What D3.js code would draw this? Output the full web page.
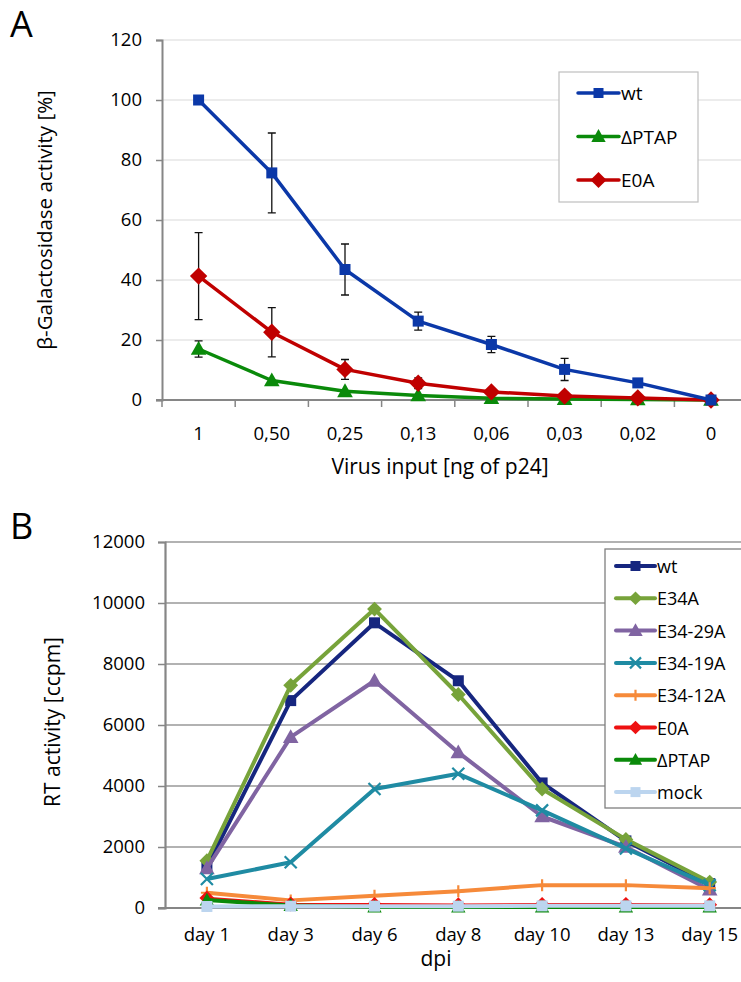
<!DOCTYPE html>
<html><head><meta charset="utf-8">
<script src="https://cdn.jsdelivr.net/npm/d3@7/dist/d3.min.js"></script>
<style>body{margin:0;background:#fff}svg{display:block}text{font-family:"Open Sans",sans-serif;fill:#000}</style>
</head><body><svg id="c" width="741" height="982"></svg>
<script>
// ---------- Panel A data ----------
const catsA = ["1","0,50","0,25","0,13","0,06","0,03","0,02","0"];
const wtA    = [100, 75.7, 43.5, 26.3, 18.5, 10.2, 5.7, 0];
const wtErr  = [0, 13.3, 8.5, 3, 2.7, 3.7, 0.6, 0];
const ptapA  = [17.0, 6.5, 2.9, 1.5, 0.6, 0.3, 0.2, 0];
const ptapErr= [2.7, 0, 0, 0, 0, 0, 0, 0];
const e0aA   = [41.3, 22.6, 10.2, 5.6, 2.7, 1.3, 0.7, 0];
const e0aErr = [14.5, 8.2, 3.3, 1.8, 0.8, 0, 0, 0];
const ticksA = [0,20,40,60,80,100,120];

// ---------- Panel B data ----------
const catsB = ["day 1","day 3","day 6","day 8","day 10","day 13","day 15"];
const namesB = ["wt","E34A","E34-29A","E34-19A","E34-12A","E0A","ΔPTAP","mock"];
const wtB     = [1350, 6800, 9350, 7450, 4100, 2200, 800];
const e34aB   = [1550, 7300, 9800, 7000, 3900, 2250, 850];
const e3429B  = [1300, 5600, 7450, 5100, 3000, 2000, 600];
const e3419B  = [950, 1500, 3900, 4400, 3200, 1950, 750];
const e3412B  = [500, 250, 400, 550, 750, 750, 650];
const e0aB    = [330, 130, 120, 110, 120, 120, 110];
const ptapB   = [260, 80, 30, 30, 30, 30, 30];
const mockB   = [50, 60, 60, 60, 70, 70, 70];
const ticksB = [0,2000,4000,6000,8000,10000,12000];

const svg = d3.select("#c");

function marker(g, shape, x, y, color, s) {
  if (shape === "square") g.append("rect").attr("x", x-s/2).attr("y", y-s/2).attr("width", s).attr("height", s).attr("fill", color);
  else if (shape === "diamond") g.append("path").attr("d", `M${x},${y-s*0.62}L${x+s*0.62},${y}L${x},${y+s*0.62}L${x-s*0.62},${y}Z`).attr("fill", color);
  else if (shape === "triangle") g.append("path").attr("d", `M${x},${y-s*0.62}L${x+s*0.6},${y+s*0.45}L${x-s*0.6},${y+s*0.45}Z`).attr("fill", color);
  else if (shape === "x") g.append("path").attr("d", `M${x-s/2},${y-s/2}L${x+s/2},${y+s/2}M${x-s/2},${y+s/2}L${x+s/2},${y-s/2}`).attr("stroke", color).attr("stroke-width", 2.2).attr("fill","none");
  else if (shape === "plus") g.append("path").attr("d", `M${x},${y-s/2}L${x},${y+s/2}M${x-s/2},${y}L${x+s/2},${y}`).attr("stroke", color).attr("stroke-width", 2.2).attr("fill","none");
}

// ================= PANEL A =================
{
  const left = 162, top = 40, bottom = 400, band = 73.2;
  const x = d3.scaleBand().domain(catsA).range([left, left + band*catsA.length]).padding(0);
  const y = d3.scaleLinear().domain([0,120]).range([bottom, top]);
  const g = svg.append("g");
  const right = 741;
  g.selectAll(".gA").data(ticksA.filter(d=>d>0)).join("line")
    .attr("x1", left).attr("x2", right).attr("y1", d=>y(d)).attr("y2", d=>y(d))
    .attr("stroke", "#d9d9d9").attr("stroke-width", 1.2);
  const ya = d3.axisLeft(y).tickValues(ticksA).tickFormat(d3.format("d")).tickSize(6).tickPadding(14);
  const yg = g.append("g").attr("transform", `translate(${left},0)`).call(ya);
  yg.select(".domain").attr("stroke", "#868686").attr("stroke-width", 2);
  yg.selectAll(".tick line").attr("stroke", "#868686").attr("stroke-width", 1.5);
  yg.selectAll("text").attr("font-size", 18.5).attr("font-family", "'Open Sans',sans-serif");
  g.append("line").attr("x1", left-6).attr("x2", right).attr("y1", bottom).attr("y2", bottom).attr("stroke", "#868686").attr("stroke-width", 2);
  g.selectAll(".xtA").data(catsA).join("line")
    .attr("x1", d=>x(d)).attr("x2", d=>x(d)).attr("y1", bottom).attr("y2", bottom+7)
    .attr("stroke", "#868686").attr("stroke-width", 1.5);
  g.selectAll(".xlA").data(catsA).join("text")
    .attr("x", d=>x(d)+band/2).attr("y", 440).attr("text-anchor","middle").attr("font-size", 18.5).text(d=>d);
  const cx = d => x(d) + band/2;
  const seriesA = [
    {name:"ΔPTAP", v:ptapA, e:ptapErr, color:"#0a8a0a", shape:"triangle", s:13},
    {name:"E0A", v:e0aA, e:e0aErr, color:"#c00000", shape:"diamond", s:14},
    {name:"wt", v:wtA, e:wtErr, color:"#0b38a8", shape:"square", s:11},
  ];
  const line = d3.line().x((d,i)=>cx(catsA[i])).y(d=>y(d));
  seriesA.forEach(s => {
    s.v.forEach((v,i)=>{
      if (s.e[i] > 0) {
        const xx = cx(catsA[i]);
        g.append("path").attr("d", `M${xx},${y(v+s.e[i])}L${xx},${y(v-s.e[i])}M${xx-4},${y(v+s.e[i])}L${xx+4},${y(v+s.e[i])}M${xx-4},${y(v-s.e[i])}L${xx+4},${y(v-s.e[i])}`)
          .attr("stroke","#111").attr("stroke-width",1.3).attr("fill","none");
      }
    });
  });
  seriesA.forEach(s => {
    g.append("path").datum(s.v).attr("d", line).attr("fill","none").attr("stroke", s.color).attr("stroke-width", 3.5).attr("stroke-linejoin","round");
    s.v.forEach((v,i)=> marker(g, s.shape, cx(catsA[i]), y(v), s.color, s.s));
  });
  const lg = g.append("g");
  lg.append("rect").attr("x", 559).attr("y", 72).attr("width", 139).attr("height", 130).attr("fill","#fff").attr("stroke","#bfbfbf").attr("stroke-width",1.2);
  const legA = [seriesA[2], seriesA[0], seriesA[1]];
  legA.forEach((s,i)=>{
    const yy = 93 + i*43.5;
    lg.append("line").attr("x1",578).attr("x2",619).attr("y1",yy).attr("y2",yy).attr("stroke",s.color).attr("stroke-width",3.5).attr("stroke-linecap","round");
    marker(lg, s.shape, 598.5, yy, s.color, s.s-1);
    lg.append("text").attr("x",621).attr("y",yy+7).attr("font-size",19).text(s.name);
  });
  g.append("text").attr("transform", `translate(52,220) rotate(-90)`).attr("text-anchor","middle").attr("font-size",20.5).text("β-Galactosidase activity [%]");
  g.append("text").attr("x", 440).attr("y", 474).attr("text-anchor","middle").attr("font-size",21).text("Virus input [ng of p24]");
  g.append("text").attr("x", 10).attr("y", 37).attr("font-size",36).text("A");
}

// ================= PANEL B =================
{
  const left = 165, top = 542, bottom = 908, band = 83.8;
  const x = d3.scaleBand().domain(catsB).range([left, left + band*catsB.length]).padding(0);
  const y = d3.scaleLinear().domain([0,12000]).range([bottom, top]);
  const g = svg.append("g");
  const right = 741;
  g.selectAll(".gB").data(ticksB.filter(d=>d>0)).join("line")
    .attr("x1", left).attr("x2", right).attr("y1", d=>y(d)).attr("y2", d=>y(d))
    .attr("stroke", "#999999").attr("stroke-width", 1.3);
  const ya = d3.axisLeft(y).tickValues(ticksB).tickFormat(d3.format("d")).tickSize(7).tickPadding(13);
  const yg = g.append("g").attr("transform", `translate(${left},0)`).call(ya);
  yg.select(".domain").attr("stroke", "#868686").attr("stroke-width", 2.2);
  yg.selectAll(".tick line").attr("stroke", "#868686").attr("stroke-width", 1.5);
  yg.selectAll("text").attr("font-size", 18.5).attr("font-family", "'Open Sans',sans-serif");
  g.append("line").attr("x1", left-7).attr("x2", right).attr("y1", bottom).attr("y2", bottom).attr("stroke", "#868686").attr("stroke-width", 2.2);
  const cx = d => x(d) + band/2;
  g.selectAll(".xlB").data(catsB).join("text")
    .attr("x", d=>cx(d)).attr("y", 941).attr("text-anchor","middle").attr("font-size", 18.5).text(d=>d);
  const valsB = [wtB, e34aB, e3429B, e3419B, e3412B, e0aB, ptapB, mockB];
  const colorsB = ["#16267f","#77a33a","#8064a2","#1f8ba3","#f68a3a","#ee1111","#0a8a0a","#bcd5ef"];
  const shapesB = ["square","diamond","triangle","x","plus","diamond","triangle","square"];
  const sizesB = [11, 12, 13, 12, 12, 12, 12, 11];
  const widthsB = [4, 4, 4, 4, 4, 2.5, 4, 4];
  const line = d3.line().x((d,i)=>cx(catsB[i])).y(d=>y(d));
  namesB.forEach((n,k)=>{
    g.append("path").datum(valsB[k]).attr("d", line).attr("fill","none").attr("stroke", colorsB[k]).attr("stroke-width", widthsB[k]).attr("stroke-linejoin","round");
    valsB[k].forEach((v,i)=> marker(g, shapesB[k], cx(catsB[i]), y(v), colorsB[k], sizesB[k]));
  });
  const lg = g.append("g");
  lg.append("rect").attr("x", 605).attr("y", 549).attr("width", 140).attr("height", 259).attr("fill","#fff").attr("stroke","#7f7f7f").attr("stroke-width",1.3);
  namesB.forEach((n,k)=>{
    const yy = 566 + k*32.3;
    lg.append("line").attr("x1",616).attr("x2",655).attr("y1",yy).attr("y2",yy).attr("stroke",colorsB[k]).attr("stroke-width",4).attr("stroke-linecap","round");
    marker(lg, shapesB[k], 635.5, yy, colorsB[k], sizesB[k]-1);
    lg.append("text").attr("x",657).attr("y",yy+7).attr("font-size",18).text(n);
  });
  g.append("text").attr("transform", `translate(60,722) rotate(-90)`).attr("text-anchor","middle").attr("font-size",21).text("RT activity [ccpm]");
  g.append("text").attr("x", 436).attr("y", 966).attr("text-anchor","middle").attr("font-size",21).text("dpi");
  g.append("text").attr("x", 10).attr("y", 539).attr("font-size",36).text("B");
}
</script></body></html>
